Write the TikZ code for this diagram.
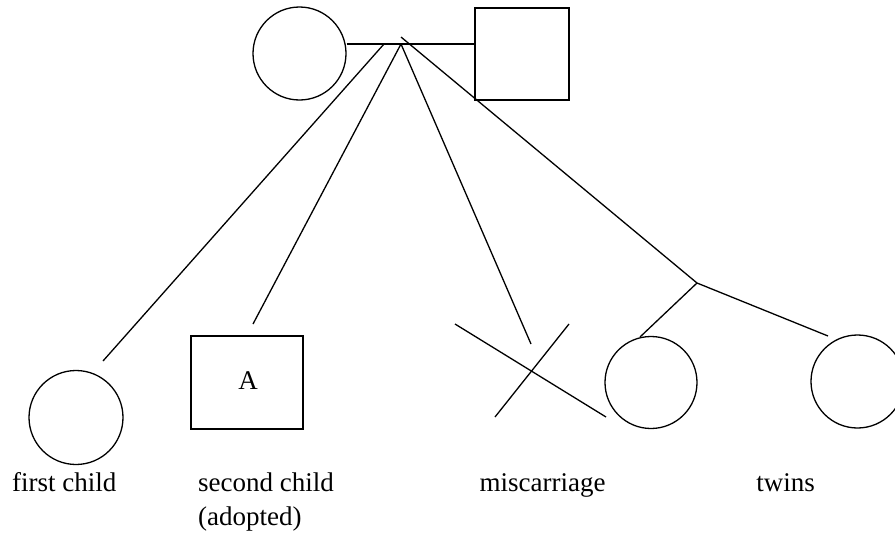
\documentclass[tikz,border=0pt]{standalone}
\usepackage{fontspec}
\setmainfont{Liberation Serif}
\begin{document}
\begin{tikzpicture}[x=1pt,y=-1pt,
  ln/.style={line width=1.3pt, black},
  fem/.style={circle, draw, line width=1.3pt, inner sep=0pt},
  mal/.style={rectangle, draw, line width=1.3pt, inner sep=0pt},
  lbl/.style={font=\fontsize{27}{31}\selectfont, inner sep=0pt}]
\useasboundingbox (0,0) rectangle (895,533);
\clip (0,0) rectangle (895,533);
% parents
\node[fem, minimum size=93pt] (mother) at (299.5,53.5) {};
\node[mal, minimum width=94pt, minimum height=92pt] (father) at (522,54) {};
\coordinate (m) at (345,44);
\coordinate (jA) at (384,44);
\coordinate (jB) at (401,44);
\coordinate (jT) at (401,37);
\draw[ln] (mother.east |- m) -- (father.west |- m);
% children
\node[fem, minimum size=94pt] (c1) at (76,417.5) {};
\node[mal, minimum width=112pt, minimum height=93pt] (c2) at (247,382.5) {};
\node[lbl, anchor=base] (A) at (248,389) {A};
\node[fem, minimum size=92pt] (tw1) at (651,382.5) {};
\node[fem, minimum size=93pt] (tw2) at (857.5,381.5) {};
% free ends
\coordinate (e1) at (103,361);
\coordinate (e2) at (253,324);
\coordinate (e3) at (531,344);
\coordinate (T) at (697,283);
\coordinate (t1) at (640,337);
\coordinate (t2) at (828,336);
\draw[ln] (jA) -- (e1);
\draw[ln] (jB) -- (e2);
\draw[ln] (jB) -- (e3);
\draw[ln] (jT) -- (T);
\draw[ln] (T) -- (t1);
\draw[ln] (T) -- (t2);
% miscarriage X
\coordinate (x1) at (455,324);
\coordinate (x2) at (606,417);
\coordinate (x3) at (569,324);
\coordinate (x4) at (495,417);
\draw[ln] (x1) -- (x2);
\draw[ln] (x3) -- (x4);
% labels
\node[lbl, anchor=base west] (l1) at (12,491) {first child};
\node[lbl, anchor=base west] (l2) at (198,491) {second child};
\node[lbl, anchor=base west] (l2b) at (198,525) {(adopted)};
\node[lbl, anchor=base] (l3) at (542.5,491) {miscarriage};
\node[lbl, anchor=base] (l4) at (785.5,491) {twins};
\end{tikzpicture}
\end{document}
